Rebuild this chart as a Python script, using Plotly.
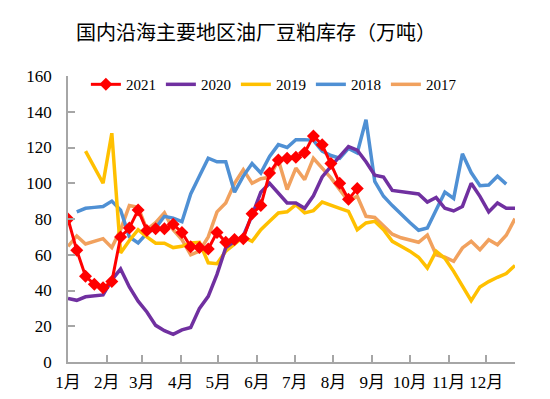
import pandas as pd
import plotly.graph_objects as go

# ---- data (weekly stocks, 10k tonnes) ----
month_labels = ["1月", "2月", "3月", "4月", "5月", "6月", "7月", "8月", "9月", "10月", "11月", "12月"]
y_ticks = [0, 20, 40, 60, 80, 100, 120, 140, 160]

v2021 = [80, 62.5, 48, 43.5, 41.5, 45, 70, 75, 85, 73.5, 74.5, 74.5, 77, 72.5, 64.5, 64, 63.2,
         72.5, 67, 68.5, 69, 83, 87.5, 105.7, 113, 114, 114.5, 117, 126.5, 121.5, 111, 100, 91, 97]
v2020 = [35.5, 34.5, 36.5, 37, 37.5, 46, 52, 42, 34, 28, 20.5, 17.5, 15.5, 18, 19.3, 30, 36.7,
         49, 64, 67.5, 70.5, 82, 95, 100, 94.5, 89, 89, 86, 93, 103.5, 109.5, 115, 120.5, 118.5,
         112, 104.5, 103.5, 96, 95.3, 94.5, 94, 89.5, 92, 86, 84.5, 87, 100, 92.7, 84, 89, 86, 86]
v2019 = [118, 109, 100, 128, 61, 68, 74, 70, 66.5, 66.5, 64, 64.7, 66.6, 67, 55.5, 55, 62, 66,
         70, 67.5, 74, 78.7, 83.4, 84, 88, 83.4, 84.7, 89.5, 88, 86, 84.3, 74, 77.8, 78.7, 74,
         67.5, 64.7, 62, 58.6, 52.6, 62, 58, 50.7, 42.5, 34.3, 42, 45, 47.4, 49.5, 54]
v2018 = [84, 86, 86.5, 87, 90, 85, 70, 66.6, 72, 75, 81.5, 80.5, 78.5, 94, 104, 114, 112, 112,
         95, 104, 111, 105.7, 115, 121.6, 120, 124.4, 124.4, 124, 118, 115.5, 114, 119.5, 117,
         135.5, 101, 92.7, 87.5, 82.5, 78, 73.7, 75, 85, 95, 91.5, 116.5, 106, 98.6, 99, 103.9, 99.5]
v2017 = [64.7, 70.5, 66, 67.5, 69, 64, 74, 87.5, 86.5, 74, 78, 83.5, 74, 68.5, 60, 62, 70, 84,
         89, 100, 107.6, 100, 102.5, 103.3, 113, 96.5, 108.5, 102, 114, 108.5, 103, 96.4, 90,
         92.7, 81.5, 80.9, 76, 71.5, 69.5, 68.4, 67, 71, 60, 58.6, 56.3, 63.8, 67.5, 62.8, 68.4,
         65.6, 70.9, 80.2]

# first week index of each series
start_week = {"2021": 0, "2020": 0, "2019": 2, "2018": 1, "2017": 0}

weeks = pd.date_range("2021-01-01", periods=52, freq="7D")
month_starts = pd.date_range("2021-01-01", periods=12, freq="MS")

series = [
    ("2017", v2017, "#F1A15E"),
    ("2018", v2018, "#4F90D4"),
    ("2019", v2019, "#FFC000"),
    ("2020", v2020, "#7030A0"),
    ("2021", v2021, "#FF0000"),
]

fig = go.Figure()
for name, vals, color in series:
    s = start_week[name]
    xs = weeks[s:s + len(vals)]
    if name == "2021":
        fig.add_trace(go.Scatter(x=xs, y=vals, name=name, mode="lines+markers",
                                 line=dict(color=color, width=3),
                                 marker=dict(symbol="diamond", size=10, color=color)))
    else:
        fig.add_trace(go.Scatter(x=xs, y=vals, name=name, mode="lines",
                                 line=dict(color=color, width=3.5)))

font_fam = "Liberation Serif, Noto Sans CJK SC, serif"

fig.update_layout(
    width=550, height=399,
    margin=dict(l=60, r=43, t=68, b=45),
    paper_bgcolor="white", plot_bgcolor="white",
    font=dict(family=font_fam, size=17, color="#000000"),
    title=dict(text="国内沿海主要地区油厂豆粕库存（万吨）", x=0.451, xanchor="center",
               y=1 - 25 / 399, yanchor="middle",
               font=dict(family="Noto Sans CJK SC", size=20, color="#000000")),
    showlegend=True,
    legend=dict(orientation="h", x=0.04, xanchor="left", y=0.97, yanchor="middle",
                traceorder="reversed", font=dict(family=font_fam, size=15),
                bgcolor="rgba(0,0,0,0)", itemwidth=30, tracegroupgap=0),
    xaxis=dict(type="date", range=[weeks[0], weeks[-1]],
               tickvals=month_starts, ticktext=month_labels,
               ticks="inside", ticklen=7, tickcolor="#A6A6A6", tickwidth=1.5,
               showline=True, linecolor="#A6A6A6", linewidth=1.5,
               showgrid=False, zeroline=False, ticklabelstandoff=4),
    yaxis=dict(range=[0, 160], tickvals=y_ticks,
               ticks="inside", ticklen=7, tickcolor="#A6A6A6", tickwidth=1.5,
               showline=True, linecolor="#A6A6A6", linewidth=1.5,
               showgrid=False, zeroline=False, ticklabelstandoff=11),
)

fig.write_html("out.html")
